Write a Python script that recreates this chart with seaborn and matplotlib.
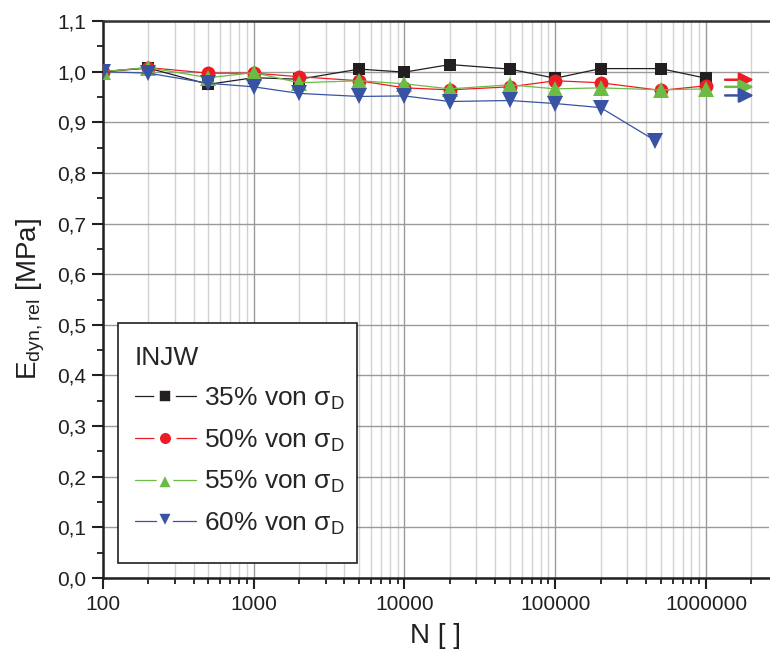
import numpy as np
import pandas as pd
import matplotlib
matplotlib.use("Agg")
import matplotlib.pyplot as plt
from matplotlib.lines import Line2D
from matplotlib.patches import Rectangle
from matplotlib.ticker import FuncFormatter, MultipleLocator, LogLocator, NullFormatter
import seaborn as sns

# ---- data ----
series_names = ["35% von σ$_\\mathregular{D}$", "50% von σ$_\\mathregular{D}$",
                "55% von σ$_\\mathregular{D}$", "60% von σ$_\\mathregular{D}$"]
n_common = [100, 200, 500, 1000, 2000, 5000, 10000, 20000, 50000, 100000, 200000, 500000, 1000000]
e_35 = [1.000, 1.007, 0.975, 0.988, 0.985, 1.005, 0.999, 1.014, 1.005, 0.987, 1.006, 1.006, 0.987]
e_50 = [1.000, 1.008, 0.997, 0.997, 0.990, 0.982, 0.968, 0.964, 0.970, 0.982, 0.978, 0.963, 0.972]
e_55 = [1.000, 1.008, 0.988, 0.998, 0.978, 0.982, 0.976, 0.966, 0.974, 0.966, 0.968, 0.964, 0.966]
n_60 = [100, 200, 500, 1000, 2000, 5000, 10000, 20000, 50000, 100000, 200000, 460000]
e_60 = [1.000, 0.997, 0.977, 0.970, 0.957, 0.951, 0.952, 0.941, 0.943, 0.937, 0.929, 0.864]
runout_y = [0.984, 0.970, 0.953]   # arrows for red, green, blue
runout_x = [1.34e6, 2.08e6]

colors = ["#231f20", "#ed1c24", "#6cbb45", "#3953a4"]
marker_list = ["s", "o", "^", "v"]
msizes = [9, 10, 11, 11]
leg_msizes = [12, 12, 15, 15]

rows = []
for name, xs, ys in zip(series_names, [n_common, n_common, n_common, n_60], [e_35, e_50, e_55, e_60]):
    for x, y in zip(xs, ys):
        rows.append({"N": x, "E": y, "series": name})
df = pd.DataFrame(rows)

sns.set_style("white")
plt.rcParams["font.family"] = ["Liberation Sans", "DejaVu Sans"]
plt.rcParams["mathtext.fontset"] = "custom"
plt.rcParams["mathtext.rm"] = "Liberation Sans"

fig = plt.figure(figsize=(7.7, 6.59), dpi=100)
ax = fig.add_axes([103/770, 81/659, 666/770, 557/659])

sns.lineplot(data=df, x="N", y="E", hue="series", style="series",
             palette=dict(zip(series_names, colors)),
             markers=dict(zip(series_names, marker_list)), dashes=False,
             linewidth=0.9, legend=False, ax=ax, sort=False, zorder=3)
for line, c, ms in zip(ax.lines, colors, msizes):
    line.set_markeredgecolor(c)
    line.set_markerfacecolor(c)
    line.set_markeredgewidth(0)
    line.set_markersize(ms)

for y, c in zip(runout_y, colors[1:]):
    ax.annotate("", xy=(runout_x[1], y), xytext=(runout_x[0], y),
                arrowprops=dict(arrowstyle="-|>", color=c, lw=1.8, mutation_scale=22,
                                shrinkA=0, shrinkB=0), zorder=4)

ax.set_xscale("log")
ax.set_xlim(100, 2.62e6)
ax.set_ylim(0.0, 1.1)

ax.xaxis.set_major_locator(LogLocator(base=10, numticks=20))
ax.xaxis.set_minor_locator(LogLocator(base=10, subs=np.arange(2, 10), numticks=20))
ax.xaxis.set_minor_formatter(NullFormatter())
ax.xaxis.set_major_formatter(FuncFormatter(lambda v, p: f"{int(round(v))}"))
ax.yaxis.set_major_locator(MultipleLocator(0.1))
ax.yaxis.set_minor_locator(MultipleLocator(0.05))
ax.yaxis.set_major_formatter(FuncFormatter(lambda v, p: f"{v:.1f}".replace(".", ",")))

ax.grid(True, which="major", axis="x", color="#9a9a9a", lw=1.0)
ax.grid(True, which="minor", axis="x", color="#d2d2d2", lw=1.0)
ax.grid(True, which="major", axis="y", color="#9a9a9a", lw=1.0)
ax.set_axisbelow(True)

for s in ["left", "bottom", "top"]:
    ax.spines[s].set_visible(True)
    ax.spines[s].set_color("#231f20")
    ax.spines[s].set_linewidth(1.8)
ax.spines["top"].set_color("#333333")
ax.spines["right"].set_visible(False)

ax.tick_params(axis="both", which="major", direction="out", length=8, width=1.5,
               labelsize=15, colors="#231f20", pad=4, bottom=True, left=True)
ax.tick_params(axis="both", which="minor", direction="out", length=4.5, width=1.3,
               colors="#231f20", bottom=True, left=True)

ax.set_xlabel("N [ ]", fontsize=20, color="#231f20")
ax.set_ylabel("E$_\\mathregular{dyn,rel}$ [MPa]", fontsize=20, color="#231f20")
ax.xaxis.set_label_coords(0.5, -0.08)
ax.yaxis.set_label_coords(-0.084, 0.5)

# legend frame drawn separately for exact placement
frame = Rectangle((15/666, 15/557), 239/666, 240/557, transform=ax.transAxes,
                  facecolor="white", edgecolor="#231f20", lw=1.2, zorder=5)
ax.add_patch(frame)

handles = [Line2D([0], [0], color=c, lw=0.9, marker=m, ms=ms, mfc=c,
                  mec="white", mew=4)
           for c, m, ms in zip(colors, marker_list, leg_msizes)]
leg = ax.legend(handles, series_names, title="INJW", loc="upper left",
                bbox_to_anchor=(32/666, 232/557), borderaxespad=0, borderpad=0,
                fontsize=19, title_fontsize=19, frameon=False, handlelength=2.3,
                handletextpad=0.3, labelspacing=0.58, alignment="left")
leg.set_zorder(6)

fig.savefig("out.png", dpi=100)
